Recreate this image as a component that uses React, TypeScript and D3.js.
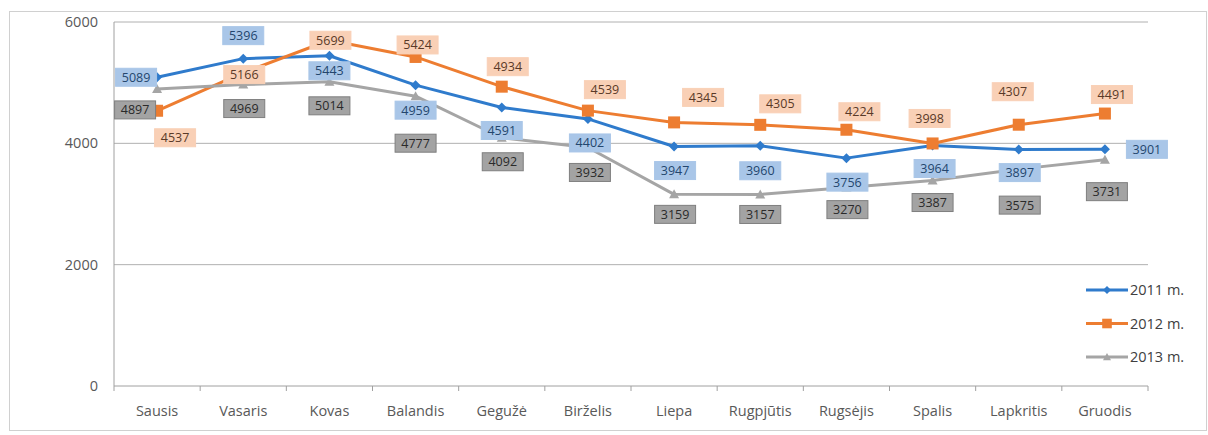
import React from "react";
import * as d3 from "d3";

const months = ["Sausis", "Vasaris", "Kovas", "Balandis", "Gegužė", "Birželis", "Liepa", "Rugpjūtis", "Rugsėjis", "Spalis", "Lapkritis", "Gruodis"];
const seriesNames = ["2011 m.", "2012 m.", "2013 m."];
const values2011 = [5089, 5396, 5443, 4959, 4591, 4402, 3947, 3960, 3756, 3964, 3897, 3901];
const values2012 = [4537, 5166, 5699, 5424, 4934, 4539, 4345, 4305, 4224, 3998, 4307, 4491];
const values2013 = [4897, 4969, 5014, 4777, 4092, 3932, 3159, 3157, 3270, 3387, 3575, 3731];
const yTicks = [0, 2000, 4000, 6000];

// label placement (layout, not data)
const off2011 = [[-21, 0], [0, -23], [0, 15], [0, 25], [0, 23], [2, 24], [1, 24], [0, 25], [1, 24], [2, 23], [1, 23], [42, 0]];
const off2012 = [[18, 27], [1, 2], [1, 0], [2, -12], [6, -20], [17, -21], [29, -25], [20, -21], [13, -18], [-3, -25], [-6, -33], [7, -19]];
const off2013 = [[-22, 21], [1, 24], [0, 24], [0, 47], [1, 24], [2, 25], [1, 20], [0, 20], [1, 22], [0, 22], [1, 36], [2, 32]];

const W = 1208, H = 435;
const left = 114, right = 1148, top = 22, bottom = 386;

export default function App() {
  const x = d3.scaleBand<string>().domain(months).range([left, right]).paddingInner(0).paddingOuter(0);
  const y = d3.scaleLinear().domain([0, 6000]).range([bottom, top]);
  const cx = (m: string) => (x(m) as number) + x.bandwidth() / 2;

  const series = [
    { name: seriesNames[0], vals: values2011, color: "#2f7bcc", labelBg: "#a9c6e8", labelBorder: "#a9c6e8", textColor: "#24466e", marker: "diamond", off: off2011 },
    { name: seriesNames[1], vals: values2012, color: "#ed7d31", labelBg: "#f9d0b6", labelBorder: "#f9d0b6", textColor: "#5a3a28", marker: "square", off: off2012 },
    { name: seriesNames[2], vals: values2013, color: "#a5a5a5", labelBg: "#a3a3a3", labelBorder: "#7f7f7f", textColor: "#2a2a2a", marker: "triangle", off: off2013 },
  ];

  const line = d3.line<number>().x((_, i) => cx(months[i])).y((v) => y(v));

  const marker = (kind: string, px: number, py: number, color: string, key: string, k = 1) => {
    if (kind === "diamond") {
      const s = 5 * k;
      return <path key={key} d={`M${px},${py - s}L${px + s},${py}L${px},${py + s}L${px - s},${py}Z`} fill={color} />;
    }
    if (kind === "square") {
      const s = 6 * k;
      return <rect key={key} x={px - s} y={py - s} width={2 * s} height={2 * s} fill={color} />;
    }
    const s = 5 * k;
    return <path key={key} d={`M${px},${py - s}L${px + s},${py + s * 0.8}L${px - s},${py + s * 0.8}Z`} fill={color} />;
  };

  const boundaries = d3.range(months.length + 1).map((i) => left + i * x.step());
  const font = "'Open Sans', 'Noto Sans', sans-serif";

  return (
    <svg width={W} height={H} style={{ position: "absolute", left: 0, top: 0, background: "#fff" }}>
      <rect x={9.5} y={11.5} width={W - 11} height={419} fill="#fff" stroke="#d0d0d0" />
      {yTicks.map((t) => (
        <g key={t}>
          {t > 0 && <line x1={left} x2={right} y1={y(t)} y2={y(t)} stroke="#b0b0b0" strokeWidth={1} />}
          <text x={98} y={y(t)} dy="0.35em" textAnchor="end" fontFamily={font} fontSize={14.5} fill="#595959">{t}</text>
        </g>
      ))}
      <line x1={left} x2={left} y1={top} y2={bottom} stroke="#a0a0a0" />
      <line x1={left} x2={right} y1={bottom} y2={bottom} stroke="#a0a0a0" />
      {boundaries.map((b, i) => (
        <line key={i} x1={b} x2={b} y1={bottom} y2={bottom + 5} stroke="#a0a0a0" />
      ))}
      {months.map((m) => (
        <text key={m} x={cx(m)} y={411} dy="0.35em" textAnchor="middle" fontFamily={font} fontSize={14.5} fill="#595959">{m}</text>
      ))}
      {series.map((s) => (
        <path key={s.name} d={line(s.vals) as string} fill="none" stroke={s.color} strokeWidth={3} strokeLinejoin="round" />
      ))}
      {series.map((s) => s.vals.map((v, i) => marker(s.marker, cx(months[i]), y(v), s.color, `${s.name}-${i}`)))}
      {series.map((s) =>
        s.vals.map((v, i) => {
          const px = cx(months[i]) + s.off[i][0];
          const py = y(v) + s.off[i][1];
          return (
            <g key={`l-${s.name}-${i}`}>
              <rect x={px - 20.5} y={py - 9} width={41} height={18} fill={s.labelBg} stroke={s.labelBorder} />
              <text x={px} y={py} dy="0.36em" textAnchor="middle" fontFamily={font} fontSize={12.5} fill={s.textColor}>{v}</text>
            </g>
          );
        })
      )}
      {series.map((s, i) => {
        const ly = 290 + i * 33.5;
        return (
          <g key={`leg-${s.name}`}>
            <line x1={1086} x2={1128} y1={ly} y2={ly} stroke={s.color} strokeWidth={3} />
            {marker(s.marker, 1107, ly, s.color, `lm-${i}`, 0.8)}
            <text x={1130} y={ly} dy="0.35em" fontFamily={font} fontSize={14.5} fill="#404040">{s.name}</text>
          </g>
        );
      })}
    </svg>
  );
}
